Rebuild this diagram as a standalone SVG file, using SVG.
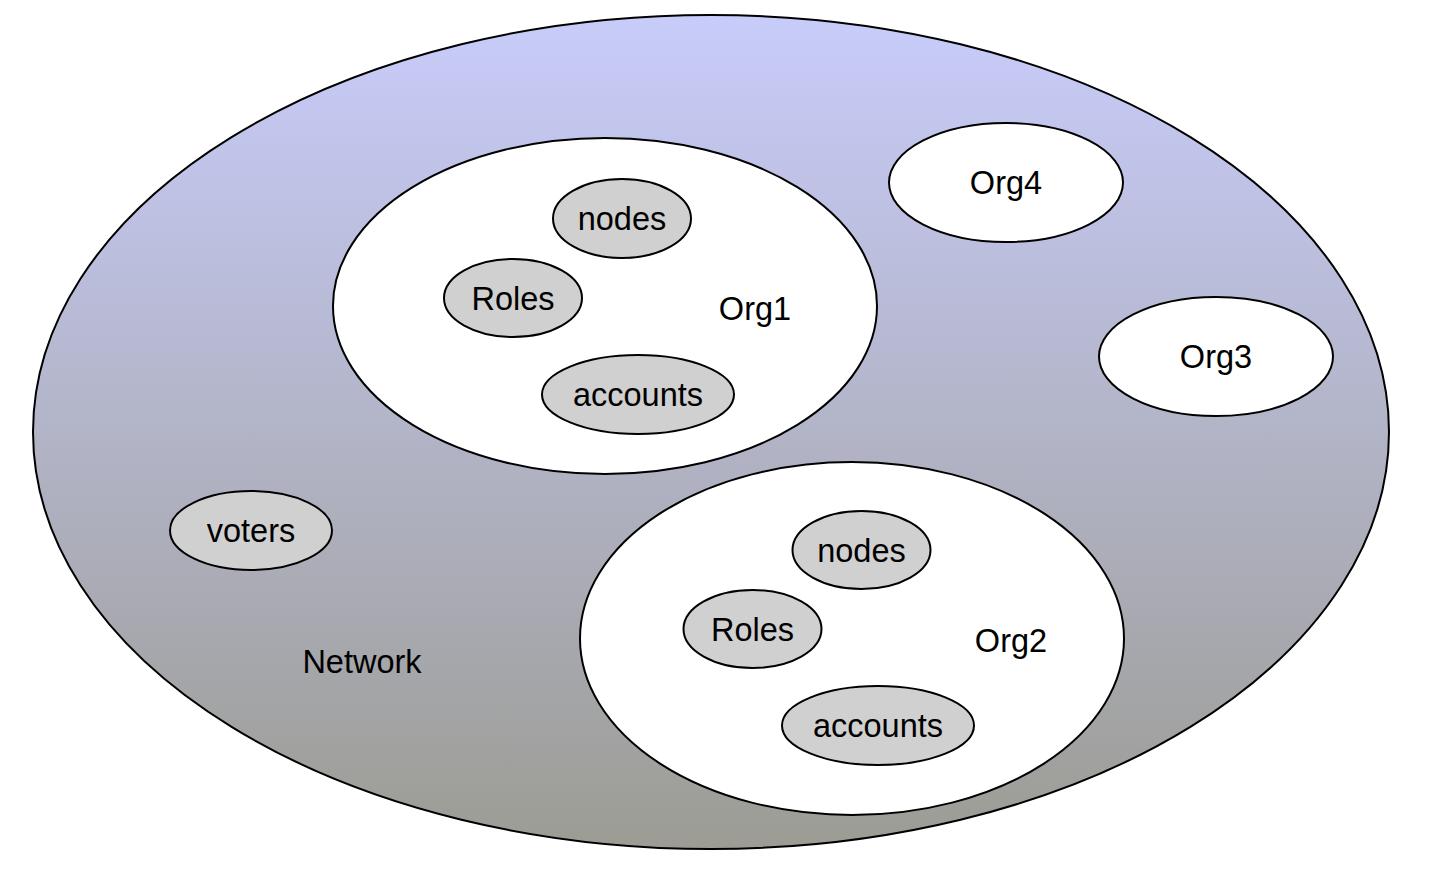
<svg xmlns="http://www.w3.org/2000/svg" width="1436" height="872" viewBox="0 0 1436 872">
<defs>
<linearGradient id="netGrad" x1="0" y1="0" x2="0" y2="1">
<stop offset="0" stop-color="#c8ccfa"/>
<stop offset="1" stop-color="#9c9c94"/>
</linearGradient>
</defs>
<style>
.org{fill:#ffffff;stroke:#000;stroke-width:2}
.item{fill:#d0d0d0;stroke:#000;stroke-width:2}
text{font-family:"Liberation Sans",Arial,sans-serif;font-size:32.5px;fill:#000;text-anchor:middle}
</style>
<rect width="1436" height="872" fill="#ffffff"/>
<g id="network">
<ellipse cx="711" cy="432" rx="678" ry="417" fill="url(#netGrad)" stroke="#000" stroke-width="2"/>
<text x="362" y="673">Network</text>
</g>
<g id="org1">
<ellipse class="org" cx="605" cy="306" rx="272" ry="168"/>
<text x="755" y="320">Org1</text>
</g>
<g id="org1-nodes">
<ellipse class="item" cx="622" cy="218.5" rx="69" ry="39.5"/>
<text x="622" y="230">nodes</text>
</g>
<g id="org1-roles">
<ellipse class="item" cx="513" cy="298" rx="69" ry="39"/>
<text x="513" y="310">Roles</text>
</g>
<g id="org1-accounts">
<ellipse class="item" cx="638" cy="394.5" rx="96" ry="39.5"/>
<text x="638" y="406">accounts</text>
</g>
<g id="org4">
<ellipse class="org" cx="1006" cy="182.5" rx="117" ry="59.5"/>
<text x="1006" y="194">Org4</text>
</g>
<g id="org3">
<ellipse class="org" cx="1216" cy="356.5" rx="117" ry="59.5"/>
<text x="1216" y="368">Org3</text>
</g>
<g id="voters">
<ellipse class="item" cx="251" cy="530.5" rx="81" ry="39.5"/>
<text x="251" y="542">voters</text>
</g>
<g id="org2">
<ellipse class="org" cx="852" cy="638.5" rx="272" ry="176.5"/>
<text x="1011" y="651.5">Org2</text>
</g>
<g id="org2-nodes">
<ellipse class="item" cx="861.5" cy="550" rx="69" ry="39"/>
<text x="861.5" y="561.5">nodes</text>
</g>
<g id="org2-roles">
<ellipse class="item" cx="752.5" cy="629" rx="69" ry="39"/>
<text x="752.5" y="640.5">Roles</text>
</g>
<g id="org2-accounts">
<ellipse class="item" cx="878" cy="725.5" rx="96" ry="39.5"/>
<text x="878" y="737">accounts</text>
</g>
<g id="connectors"></g>
</svg>
